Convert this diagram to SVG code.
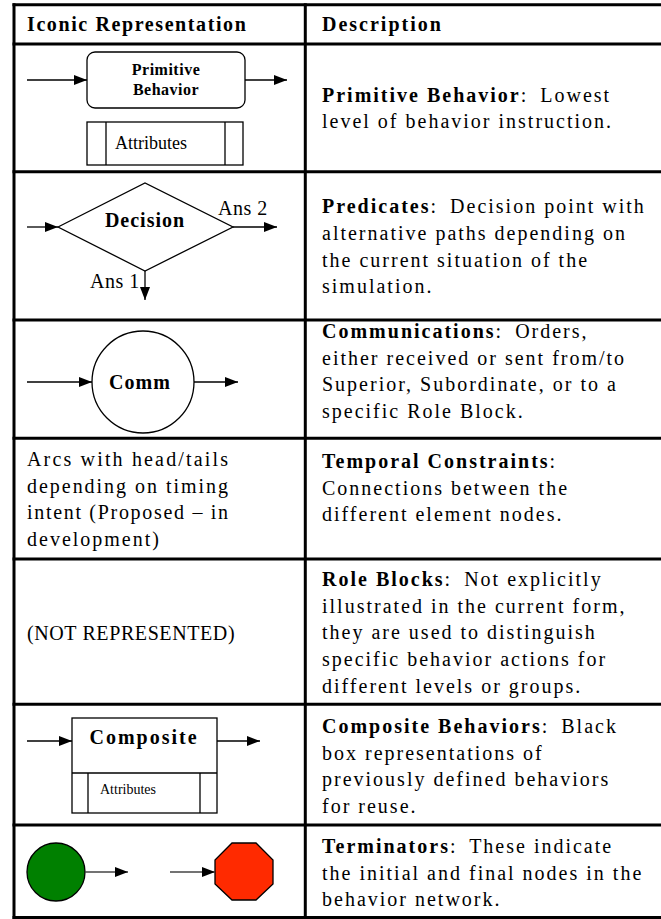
<svg xmlns="http://www.w3.org/2000/svg" width="661" height="919" viewBox="0 0 661 919">
<style>
.t{font-family:"Liberation Serif","Times New Roman",serif;font-size:20px;letter-spacing:2px;fill:#000}
.b{font-weight:bold}
.grid{stroke:#000;stroke-width:3;fill:none}
.sh{fill:#fff;stroke:#000;stroke-width:1.3}
.ar{stroke:#000;stroke-width:1.3;fill:none;marker-end:url(#ah)}
.arg{stroke:#444;stroke-width:1.3;fill:none;marker-end:url(#ah)}
</style>
<defs>
<marker id="ah" markerUnits="userSpaceOnUse" markerWidth="14" markerHeight="10" refX="13" refY="5" orient="auto">
<path d="M0,0 L13,5 L0,10 z" fill="#000"/>
</marker>
</defs>
<rect width="661" height="919" fill="#fff"/>
<g id="grid" class="grid">
<line x1="14" y1="3.2" x2="14" y2="919"/>
<line x1="305.3" y1="3.2" x2="305.3" y2="919"/>
<line x1="12.5" y1="4.7" x2="661" y2="4.7"/>
<line x1="12.5" y1="44" x2="661" y2="44"/>
<line x1="12.5" y1="171.7" x2="661" y2="171.7"/>
<line x1="12.5" y1="320" x2="661" y2="320"/>
<line x1="12.5" y1="438.3" x2="661" y2="438.3"/>
<line x1="12.5" y1="559" x2="661" y2="559"/>
<line x1="12.5" y1="704.3" x2="661" y2="704.3"/>
<line x1="12.5" y1="825" x2="661" y2="825"/>
<line x1="12.5" y1="917.5" x2="661" y2="917.5"/>
</g>
<g id="header">
<text class="t b" x="27" y="31" style="letter-spacing:1.6px">Iconic Representation</text>
<text class="t b" x="322" y="31">Description</text>
</g>
<g id="primitive-behavior">
<rect class="sh" x="87" y="52" width="158" height="56" rx="8"/>
<text class="t b" x="166" y="75" text-anchor="middle" style="font-size:16px;letter-spacing:0.5px">Primitive</text>
<text class="t b" x="166" y="95" text-anchor="middle" style="font-size:16px;letter-spacing:0.5px">Behavior</text>
</g>
<g id="primitive-attributes">
<rect class="sh" x="87" y="122" width="156" height="43"/>
<line class="sh" x1="106" y1="122" x2="106" y2="165"/>
<line class="sh" x1="225" y1="122" x2="225" y2="165"/>
<text class="t" x="115" y="149" style="font-size:18px;letter-spacing:0">Attributes</text>
</g>
<g id="decision">
<polygon class="sh" points="58,227 145,183 233,227 145,271"/>
<text class="t b" x="145" y="227" text-anchor="middle" style="letter-spacing:1px">Decision</text>
<text class="t" x="218" y="215" style="letter-spacing:0.5px">Ans 2</text>
<text class="t" x="90" y="288" style="letter-spacing:0.5px">Ans 1</text>
</g>
<g id="comm">
<circle class="sh" cx="143" cy="382" r="51"/>
<text class="t b" x="140" y="389" text-anchor="middle" style="letter-spacing:1px">Comm</text>
</g>
<g id="arcs-text">
<text class="t" x="27" y="466" textLength="203" lengthAdjust="spacing">Arcs with head/tails</text>
<text class="t" x="27" y="492.7" textLength="203" lengthAdjust="spacing">depending on timing</text>
<text class="t" x="27" y="519.3" textLength="203" lengthAdjust="spacing">intent (Proposed – in</text>
<text class="t" x="27" y="546">development)</text>
</g>
<g id="not-represented">
<text class="t" x="27" y="640" style="letter-spacing:0.6px">(NOT REPRESENTED)</text>
</g>
<g id="composite">
<rect class="sh" x="72" y="718" width="145" height="95"/>
<line class="sh" x1="72" y1="773" x2="217" y2="773"/>
<line class="sh" x1="88" y1="773" x2="88" y2="813"/>
<line class="sh" x1="200" y1="773" x2="200" y2="813"/>
<text class="t b" x="144" y="744" text-anchor="middle">Composite</text>
<text class="t" x="100" y="794" style="font-size:14px;letter-spacing:0">Attributes</text>
</g>
<g id="start-node">
<circle cx="56" cy="872" r="29" fill="#008000" stroke="#000" stroke-width="1.3"/>
</g>
<g id="end-node">
<polygon points="232,843 256,843 273,860 273,884 256,900 232,900 215,884 215,860" fill="#ff2a00" stroke="#000" stroke-width="1.3"/>
</g>
<g id="connectors">
<line class="ar" x1="27" y1="80" x2="87" y2="80"/>
<line class="ar" x1="245" y1="80" x2="287" y2="80"/>
<line class="ar" x1="27" y1="227" x2="58" y2="227"/>
<line class="ar" x1="233" y1="227" x2="277" y2="227"/>
<line class="ar" x1="145" y1="271" x2="145" y2="300"/>
<line class="ar" x1="27" y1="382" x2="92" y2="382"/>
<line class="ar" x1="194" y1="382" x2="238" y2="382"/>
<line class="ar" x1="27" y1="741" x2="72" y2="741"/>
<line class="ar" x1="217" y1="741" x2="260" y2="741"/>
<line class="arg" x1="85" y1="872" x2="128" y2="872"/>
<line class="arg" x1="170" y1="872" x2="215" y2="872"/>
</g>
<g id="descriptions" class="t">
<text x="322" y="102"><tspan class="b">Primitive Behavior</tspan>: <tspan dx="5">Lowest</tspan></text>
<text x="322" y="128.3">level of behavior instruction.</text>
<text x="322" y="213.3"><tspan class="b">Predicates</tspan>: <tspan dx="5">Decision point with</tspan></text>
<text x="322" y="240">alternative paths depending on</text>
<text x="322" y="266.7">the current situation of the</text>
<text x="322" y="293.3">simulation.</text>
<text x="322" y="338"><tspan class="b">Communications</tspan>: <tspan dx="5">Orders,</tspan></text>
<text x="322" y="364.7">either received or sent from/to</text>
<text x="322" y="391.3">Superior, Subordinate, or to a</text>
<text x="322" y="418">specific Role Block.</text>
<text x="322" y="468"><tspan class="b">Temporal Constraints</tspan>:</text>
<text x="322" y="494.7">Connections between the</text>
<text x="322" y="521.3">different element nodes.</text>
<text x="322" y="586"><tspan class="b">Role Blocks</tspan>: <tspan dx="5">Not explicitly</tspan></text>
<text x="322" y="612.7">illustrated in the current form,</text>
<text x="322" y="639.3">they are used to distinguish</text>
<text x="322" y="666">specific behavior actions for</text>
<text x="322" y="692.7">different levels or groups.</text>
<text x="322" y="733"><tspan class="b">Composite Behaviors</tspan>: <tspan dx="5">Black</tspan></text>
<text x="322" y="759.7">box representations of</text>
<text x="322" y="786.3">previously defined behaviors</text>
<text x="322" y="813">for reuse.</text>
<text x="322" y="853"><tspan class="b">Terminators</tspan>: <tspan dx="5">These indicate</tspan></text>
<text x="322" y="879.7">the initial and final nodes in the</text>
<text x="322" y="906.3">behavior network.</text>
</g>
</svg>
